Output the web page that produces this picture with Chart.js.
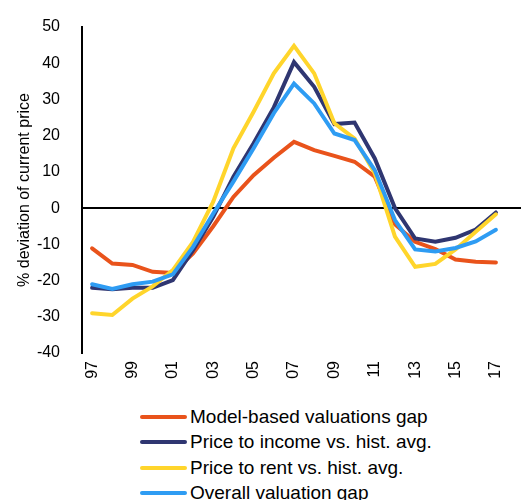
<!DOCTYPE html>
<html>
<head>
<meta charset="utf-8">
<script src="https://cdn.jsdelivr.net/npm/chart.js@4/dist/chart.umd.min.js"></script>
<style>
  html, body { margin: 0; padding: 0; background: #fff; width: 521px; height: 500px; overflow: hidden; }
  #wrap { position: relative; width: 521px; height: 400px; }
  #legend { position: absolute; left: 140px; top: 404px; font-family: "Liberation Sans", Arial, sans-serif; font-size: 19px; color: #000; }
  .row { height: 25.5px; display: flex; align-items: center; white-space: nowrap; }
  .swatch { width: 47px; height: 4px; border-radius: 2px; margin-right: 3px; }
</style>
</head>
<body>
<div id="wrap"><canvas id="c" width="521" height="400"></canvas></div>
<div id="legend"></div>
<script>
const years = ['97','98','99','00','01','02','03','04','05','06','07','08','09','10','11','12','13','14','15','16','17'];
const modelGap   = [-11.1,-15.3,-15.7,-17.6,-17.9,-12.5,-5.0,3.1,9.1,13.9,18.3,16.0,14.4,12.8,8.7,-4.5,-9.3,-11.3,-14.2,-14.8,-15.0];
const priceIncome= [-22.0,-22.4,-22.0,-22.0,-19.9,-11.6,-2.4,8.7,17.9,27.8,40.3,33.5,23.2,23.6,13.7,0.0,-8.4,-9.3,-8.2,-5.9,-1.2];
const priceRent  = [-29.0,-29.5,-25.0,-21.6,-17.1,-9.3,1.8,16.5,26.6,37.2,44.8,37.2,23.4,19.2,9.6,-7.9,-16.2,-15.4,-11.4,-6.5,-1.7];
const overallGap = [-21.0,-22.3,-21.0,-20.3,-18.3,-10.7,-1.5,7.3,16.5,26.2,34.4,28.9,20.6,18.8,10.5,-3.3,-11.4,-12.0,-11.0,-9.2,-6.0];
const seriesNames = ['Model-based valuations gap','Price to income vs. hist. avg.','Price to rent vs. hist. avg.','Overall valuation gap'];
const seriesColors = ['#E9531B','#2F3671','#FFD52B','#2E9CF3'];
const yTicks = { min: -40, max: 50, step: 10 };
const axisTitle = '% deviation of current price';

const FONT = { family: '"Liberation Sans", Arial, sans-serif', size: 16 };
const allSeries = [modelGap, priceIncome, priceRent, overallGap];

const zeroLine = {
  id: 'zeroLine',
  beforeDatasetsDraw(chart) {
    const y = chart.scales.y.getPixelForValue(0);
    const ctx = chart.ctx;
    ctx.save();
    ctx.strokeStyle = '#000';
    ctx.lineWidth = 2;
    ctx.beginPath();
    ctx.moveTo(chart.chartArea.left, y);
    ctx.lineTo(chart.width, y);
    ctx.stroke();
    ctx.restore();
  }
};

const chart = new Chart(document.getElementById('c'), {
  type: 'line',
  data: {
    labels: years,
    datasets: allSeries.map((d, i) => ({
      label: seriesNames[i],
      data: d,
      borderColor: seriesColors[i],
      backgroundColor: seriesColors[i],
      borderWidth: 4,
      pointRadius: 0,
      tension: 0,
      borderCapStyle: 'round',
      borderJoinStyle: 'miter',
      order: allSeries.length - i
    }))
  },
  options: {
    responsive: false,
    animation: false,
    layout: { padding: { top: 27, right: 15, bottom: 0, left: 0 } },
    plugins: { legend: { display: false }, tooltip: { enabled: false } },
    scales: {
      x: {
        offset: true,
        grid: { display: false, drawTicks: false },
        border: { display: false },
        ticks: {
          autoSkip: false, minRotation: 90, maxRotation: 90, padding: 8,
          color: '#000', font: FONT,
          callback: function(v, i) { return i % 2 === 0 ? this.getLabelForValue(v) : ''; }
        },
        afterFit(s) { s.height = 47; s.paddingLeft = 0; s.paddingRight = 0; s.paddingTop = 0; s.paddingBottom = 0; }
      },
      y: {
        min: yTicks.min, max: yTicks.max,
        grid: { drawOnChartArea: false, drawTicks: false },
        border: { display: true, color: '#000', width: 2 },
        ticks: { stepSize: yTicks.step, color: '#000', font: FONT, padding: 22 },
        title: { display: true, text: axisTitle, color: '#000', font: FONT, padding: { top: 15, bottom: 0 } },
        afterFit(s) { s.width = 82; s.paddingTop = 0; s.paddingBottom = 0; s.paddingLeft = 0; s.paddingRight = 0; }
      }
    }
  },
  plugins: [zeroLine]
});

const legend = document.getElementById('legend');
chart.data.datasets.forEach(ds => {
  const row = document.createElement('div');
  row.className = 'row';
  const sw = document.createElement('div');
  sw.className = 'swatch';
  sw.style.background = ds.borderColor;
  const t = document.createElement('span');
  t.textContent = ds.label;
  row.appendChild(sw); row.appendChild(t);
  legend.appendChild(row);
});
</script>
</body>
</html>
